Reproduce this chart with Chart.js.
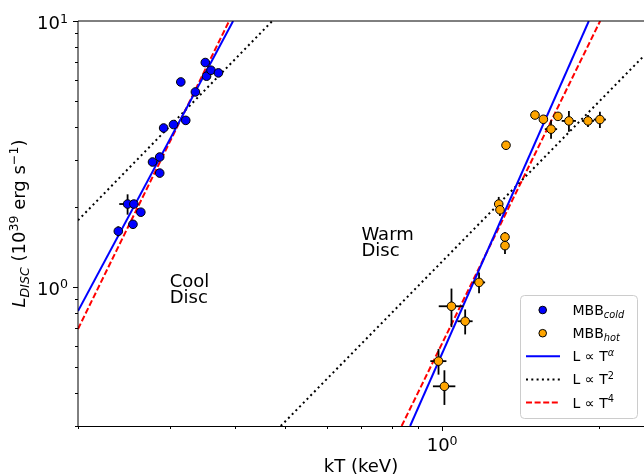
<!DOCTYPE html>
<html><head><meta charset="utf-8">
<script src="https://cdn.jsdelivr.net/npm/chart.js@4.4.1/dist/chart.umd.min.js"></script>
<style>html,body{margin:0;padding:0;background:#fff;}canvas{display:block;}</style>
</head><body>
<canvas id="c" width="644" height="475"></canvas>
<script>
// ---- data ----
const coldT    = [0.239, 0.249, 0.256, 0.255, 0.264, 0.278, 0.287, 0.287, 0.292, 0.305, 0.322, 0.315, 0.336, 0.351, 0.353, 0.360, 0.372];
const coldL    = [1.62, 2.05, 2.05, 1.72, 1.91, 2.95, 3.08, 2.68, 3.96, 4.08, 4.23, 5.90, 5.41, 6.98, 6.20, 6.53, 6.38];
const coldTerr = [0, 0.009, 0, 0, 0, 0, 0, 0, 0, 0, 0, 0, 0, 0, 0, 0, 0];
const coldLerr = [0.07, 0.18, 0.06, 0, 0, 0, 0, 0, 0, 0, 0, 0, 0, 0, 0, 0, 0];

const hotT    = [1.507, 1.564, 1.668, 1.618, 1.751, 1.905, 2.008, 1.326, 1.284, 1.291, 1.320, 1.320, 1.177, 1.042, 1.107, 0.984, 1.010];
const hotL    = [4.43, 4.27, 4.38, 3.92, 4.21, 4.21, 4.26, 3.41, 2.05, 1.95, 1.54, 1.43, 1.04, 0.846, 0.743, 0.526, 0.423];
const hotTerr = [0, 0, 0, 0.044, 0.055, 0.051, 0.054, 0, 0.023, 0, 0, 0, 0.032, 0.057, 0.037, 0.035, 0.05];
const hotLerr = [0, 0, 0, 0.31, 0.38, 0.22, 0.30, 0.06, 0.13, 0.10, 0.07, 0.10, 0.094, 0.14, 0.08, 0.058, 0.063];

// model lines (end points)
const alphaColdT = [0.2, 0.397],  alphaColdL = [0.812, 10];
const alphaWarmT = [0.868, 1.912], alphaWarmL = [0.3, 10];
const t2ColdT    = [0.2, 0.472],  t2ColdL    = [1.78, 10];
const t2WarmT    = [0.49, 2.44],  t2WarmL    = [0.3, 7.4];
const t4ColdT    = [0.2, 0.39],   t4ColdL    = [0.695, 10];
const t4WarmT    = [0.836, 2.01], t4WarmL    = [0.3, 10];

// axes
const xMin = 0.2, xMax = 2.44, yMin = 0.3, yMax = 10;
const xMajorTicks = [1];
const xMinorTicks = [0.2, 0.3, 0.4, 0.5, 0.6, 0.7, 0.8, 0.9, 2];
const yMajorTicks = [1, 10];
const yMinorTicks = [0.3, 0.4, 0.5, 0.6, 0.7, 0.8, 0.9, 2, 3, 4, 5, 6, 7, 8, 9];
const xTickExp = ['0'];
const yTickExp = ['0', '1'];

const annotations = [
  {lines: ['Cool', 'Disc'], T: 0.30, L: 1.0},
  {lines: ['Warm', 'Disc'], T: 0.70, L: 1.5}
];

// ---- helpers ----
const FONT = '"DejaVu Sans", sans-serif';
const pts = (X, Y) => X.map((x, i) => ({x: x, y: Y[i]}));
function segFont(s, base){ return (s.it ? 'italic ' : '') + (base * (s.s || 1)) + 'px ' + FONT; }
function richWidth(ctx, segs, base){ let w = 0; for (const s of segs){ ctx.font = segFont(s, base); w += ctx.measureText(s.t).width; } return w; }
function drawRich(ctx, segs, base, x, y, align){
  const w = richWidth(ctx, segs, base);
  let cx = align === 'center' ? x - w / 2 : align === 'right' ? x - w : x;
  ctx.textAlign = 'left'; ctx.textBaseline = 'alphabetic';
  for (const s of segs){ ctx.font = segFont(s, base); ctx.fillText(s.t, cx, y - (s.dy || 0) * base); cx += ctx.measureText(s.t).width; }
}

const decor = {
  id: 'decor',
  beforeDatasetDraw(chart, args){
    const ds = chart.data.datasets[args.index];
    if (!ds.errT) return;
    const xs = chart.scales.x, ys = chart.scales.y, ctx = chart.ctx, a = chart.chartArea;
    ctx.save();
    ctx.beginPath(); ctx.rect(a.left, a.top, a.right - a.left, a.bottom - a.top); ctx.clip();
    ctx.strokeStyle = '#000'; ctx.lineWidth = 1.8;
    ds.data.forEach((p, i) => {
      const px = xs.getPixelForValue(p.x), py = ys.getPixelForValue(p.y);
      if (ds.errT[i] > 0){
        ctx.beginPath();
        ctx.moveTo(xs.getPixelForValue(p.x - ds.errT[i]), py);
        ctx.lineTo(xs.getPixelForValue(p.x + ds.errT[i]), py);
        ctx.stroke();
      }
      if (ds.errL[i] > 0){
        ctx.beginPath();
        ctx.moveTo(px, ys.getPixelForValue(p.y - ds.errL[i]));
        ctx.lineTo(px, ys.getPixelForValue(p.y + ds.errL[i]));
        ctx.stroke();
      }
    });
    ctx.restore();
  },
  afterDraw(chart){
    const ctx = chart.ctx, a = chart.chartArea, xs = chart.scales.x, ys = chart.scales.y;
    ctx.save();
    // spines
    ctx.strokeStyle = '#000'; ctx.lineWidth = 1;
    ctx.beginPath(); ctx.moveTo(a.left, a.top); ctx.lineTo(a.right, a.top); ctx.stroke();
    ctx.beginPath(); ctx.moveTo(a.left, a.top); ctx.lineTo(a.left, a.bottom + 0.5); ctx.stroke();
    ctx.lineWidth = 1.2;
    ctx.beginPath(); ctx.moveTo(a.left - 0.5, a.bottom + 0.5); ctx.lineTo(a.right, a.bottom + 0.5); ctx.stroke();
    // ticks
    ctx.lineWidth = 1;
    const xt = (v, len) => { const p = Math.round(xs.getPixelForValue(v)) + 0.5; ctx.beginPath(); ctx.moveTo(p, a.bottom); ctx.lineTo(p, a.bottom + len); ctx.stroke(); };
    const yt = (v, len) => { const p = Math.round(ys.getPixelForValue(v)) + 0.5; ctx.beginPath(); ctx.moveTo(a.left, p); ctx.lineTo(a.left - len, p); ctx.stroke(); };
    xMajorTicks.forEach(v => xt(v, 5)); xMinorTicks.forEach(v => xt(v, 3));
    yMajorTicks.forEach(v => yt(v, 5)); yMinorTicks.forEach(v => yt(v, 3));
    // tick labels
    ctx.fillStyle = '#000';
    const TF = 18;
    xMajorTicks.forEach((v, i) => {
      drawRich(ctx, [{t: '10'}, {t: xTickExp[i], s: 0.7, dy: 0.36}], TF, xs.getPixelForValue(v), a.bottom + 25, 'center');
    });
    yMajorTicks.forEach((v, i) => {
      drawRich(ctx, [{t: '10'}, {t: yTickExp[i], s: 0.7, dy: 0.36}], TF, a.left - 10, ys.getPixelForValue(v) + 8, 'right');
    });
    // axis titles
    drawRich(ctx, [{t: 'kT (keV)'}], 18, (a.left + a.right) / 2, 472, 'center');
    ctx.save();
    ctx.translate(25, (a.top + a.bottom) / 2);
    ctx.rotate(-Math.PI / 2);
    drawRich(ctx, [
      {t: 'L', it: true}, {t: 'DISC', it: true, s: 0.7, dy: -0.2},
      {t: ' (10'}, {t: '39', s: 0.7, dy: 0.4}, {t: ' erg s'}, {t: '\u22121', s: 0.7, dy: 0.4}, {t: ')'}
    ], 18, 0, 0, 'center');
    ctx.restore();
    // annotations
    ctx.font = '18px ' + FONT; ctx.textAlign = 'left'; ctx.textBaseline = 'alphabetic';
    annotations.forEach(an => {
      const px = xs.getPixelForValue(an.T), py = ys.getPixelForValue(an.L);
      an.lines.forEach((ln, k) => ctx.fillText(ln, px, py + k * 16));
    });
    // legend
    const lx = 520.5, ly = 295.5, lw = 117, lh = 123, r = 4;
    ctx.beginPath();
    ctx.moveTo(lx + r, ly); ctx.lineTo(lx + lw - r, ly); ctx.quadraticCurveTo(lx + lw, ly, lx + lw, ly + r);
    ctx.lineTo(lx + lw, ly + lh - r); ctx.quadraticCurveTo(lx + lw, ly + lh, lx + lw - r, ly + lh);
    ctx.lineTo(lx + r, ly + lh); ctx.quadraticCurveTo(lx, ly + lh, lx, ly + lh - r);
    ctx.lineTo(lx, ly + r); ctx.quadraticCurveTo(lx, ly, lx + r, ly); ctx.closePath();
    ctx.fillStyle = 'rgba(255,255,255,0.8)'; ctx.fill();
    ctx.strokeStyle = '#cccccc'; ctx.lineWidth = 1; ctx.stroke();
    const rows = [310, 333.2, 356.3, 379.4, 402.5];
    const tx = 572.5, LF = 14;
    const mk = (y, col) => { ctx.beginPath(); ctx.arc(542.7, y, 3.8, 0, 2 * Math.PI); ctx.fillStyle = col; ctx.fill(); ctx.strokeStyle = '#000'; ctx.lineWidth = 1; ctx.stroke(); };
    const ln = (y, col, dash, w) => { ctx.beginPath(); ctx.setLineDash(dash); ctx.strokeStyle = col; ctx.lineWidth = w; ctx.moveTo(526, y); ctx.lineTo(560, y); ctx.stroke(); ctx.setLineDash([]); };
    mk(rows[0], 'blue'); mk(rows[1], 'orange');
    ln(rows[2], 'blue', [], 2); ln(rows[3], '#000', [2, 3.3], 2); ln(rows[4], 'red', [6, 2.6], 2);
    ctx.fillStyle = '#000';
    drawRich(ctx, [{t: 'MBB'}, {t: 'cold', it: true, s: 0.7, dy: -0.22}], LF, tx, rows[0] + 5, 'left');
    drawRich(ctx, [{t: 'MBB'}, {t: 'hot', it: true, s: 0.7, dy: -0.22}], LF, tx, rows[1] + 5, 'left');
    drawRich(ctx, [{t: 'L \u221d T'}, {t: '\u03b1', it: true, s: 0.7, dy: 0.4}], LF, tx, rows[2] + 5, 'left');
    drawRich(ctx, [{t: 'L \u221d T'}, {t: '2', s: 0.7, dy: 0.4}], LF, tx, rows[3] + 5, 'left');
    drawRich(ctx, [{t: 'L \u221d T'}, {t: '4', s: 0.7, dy: 0.4}], LF, tx, rows[4] + 5, 'left');
    ctx.restore();
  }
};

const lineDs = (X, Y, col, dash) => ({
  type: 'line', data: pts(X, Y), borderColor: col, borderWidth: 2, borderDash: dash,
  pointRadius: 0, fill: false, tension: 0, order: 2
});

new Chart(document.getElementById('c').getContext('2d'), {
  type: 'scatter',
  data: {datasets: [
    {label: 'MBB cold', data: pts(coldT, coldL), errT: coldTerr, errL: coldLerr,
     backgroundColor: 'blue', borderColor: '#000', borderWidth: 1, pointRadius: 4.3, order: 0},
    {label: 'MBB hot', data: pts(hotT, hotL), errT: hotTerr, errL: hotLerr,
     backgroundColor: 'orange', borderColor: '#000', borderWidth: 1, pointRadius: 4.3, order: 1},
    lineDs(alphaColdT, alphaColdL, 'blue', []),
    lineDs(alphaWarmT, alphaWarmL, 'blue', []),
    lineDs(t2ColdT, t2ColdL, '#000', [2, 3.3]),
    lineDs(t2WarmT, t2WarmL, '#000', [2, 3.3]),
    lineDs(t4ColdT, t4ColdL, 'red', [6, 2.6]),
    lineDs(t4WarmT, t4WarmL, 'red', [6, 2.6])
  ]},
  options: {
    responsive: false, animation: false, devicePixelRatio: 1, events: [],
    layout: {autoPadding: false, padding: {left: 78, top: 21, right: 0, bottom: 49}},
    plugins: {legend: {display: false}, tooltip: {enabled: false}},
    scales: {
      x: {type: 'logarithmic', min: xMin, max: xMax, display: false},
      y: {type: 'logarithmic', min: yMin, max: yMax, display: false}
    }
  },
  plugins: [decor]
});
</script>
</body></html>
